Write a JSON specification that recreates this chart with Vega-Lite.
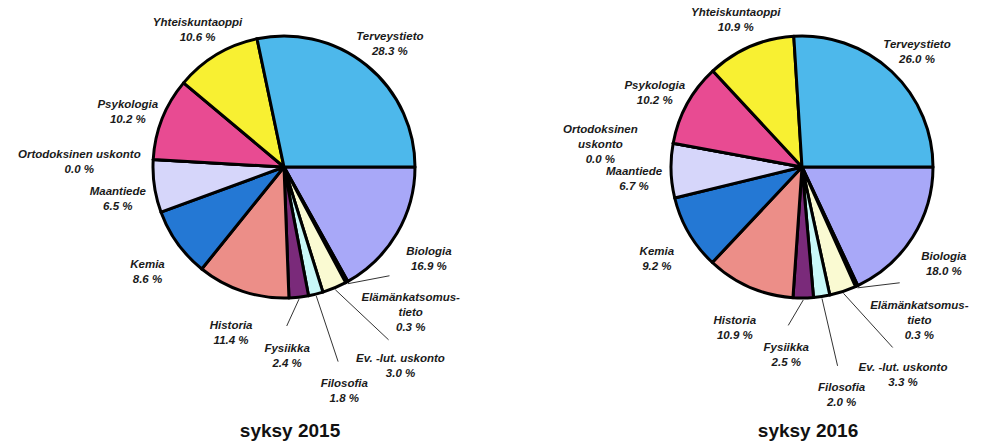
{
  "$schema": "https://vega.github.io/schema/vega-lite/v6.json",
  "background": "white",
  "padding": 0,
  "data": {
    "values": [
      {"term": "syksy 2015", "subject": "Biologia", "label": "Biologia", "share": 16.9},
      {"term": "syksy 2015", "subject": "Elämänkatsomustieto", "label": "Elämänkatsomus-|tieto", "share": 0.3},
      {"term": "syksy 2015", "subject": "Ev.-lut. uskonto", "label": "Ev. -lut. uskonto", "share": 3.0},
      {"term": "syksy 2015", "subject": "Filosofia", "label": "Filosofia", "share": 1.8},
      {"term": "syksy 2015", "subject": "Fysiikka", "label": "Fysiikka", "share": 2.4},
      {"term": "syksy 2015", "subject": "Historia", "label": "Historia", "share": 11.4},
      {"term": "syksy 2015", "subject": "Kemia", "label": "Kemia", "share": 8.6},
      {"term": "syksy 2015", "subject": "Maantiede", "label": "Maantiede", "share": 6.5},
      {"term": "syksy 2015", "subject": "Ortodoksinen uskonto", "label": "Ortodoksinen uskonto", "share": 0.0},
      {"term": "syksy 2015", "subject": "Psykologia", "label": "Psykologia", "share": 10.2},
      {"term": "syksy 2015", "subject": "Yhteiskuntaoppi", "label": "Yhteiskuntaoppi", "share": 10.6},
      {"term": "syksy 2015", "subject": "Terveystieto", "label": "Terveystieto", "share": 28.3},
      {"term": "syksy 2016", "subject": "Biologia", "label": "Biologia", "share": 18.0},
      {"term": "syksy 2016", "subject": "Elämänkatsomustieto", "label": "Elämänkatsomus-|tieto", "share": 0.3},
      {"term": "syksy 2016", "subject": "Ev.-lut. uskonto", "label": "Ev. -lut. uskonto", "share": 3.3},
      {"term": "syksy 2016", "subject": "Filosofia", "label": "Filosofia", "share": 2.0},
      {"term": "syksy 2016", "subject": "Fysiikka", "label": "Fysiikka", "share": 2.5},
      {"term": "syksy 2016", "subject": "Historia", "label": "Historia", "share": 10.9},
      {"term": "syksy 2016", "subject": "Kemia", "label": "Kemia", "share": 9.2},
      {"term": "syksy 2016", "subject": "Maantiede", "label": "Maantiede", "share": 6.7},
      {"term": "syksy 2016", "subject": "Ortodoksinen uskonto", "label": "Ortodoksinen|uskonto", "share": 0.0},
      {"term": "syksy 2016", "subject": "Psykologia", "label": "Psykologia", "share": 10.2},
      {"term": "syksy 2016", "subject": "Yhteiskuntaoppi", "label": "Yhteiskuntaoppi", "share": 10.9},
      {"term": "syksy 2016", "subject": "Terveystieto", "label": "Terveystieto", "share": 26.0}
    ]
  },
  "transform": [
    {"window": [{"op": "row_number", "as": "idx"}], "groupby": ["term"]},
    {"stack": "share", "groupby": ["term"], "sort": [{"field": "idx", "order": "ascending"}], "as": ["s0", "s1"]},
    {"calculate": "datum.share > 0 && datum.share < 4 ? 1 : 0", "as": "small"},
    {"window": [{"op": "sum", "field": "small", "as": "ksum"}], "groupby": ["term"], "sort": [{"field": "idx", "order": "ascending"}], "frame": [null, 0]},
    {"calculate": "datum.ksum - 1", "as": "k"},
    {"calculate": "(90 + 1.8 * (datum.s0 + datum.s1)) * PI / 180", "as": "phi"},
    {"calculate": "datum.small == 1 ? datum.phi + (-5 + 7 * (datum.k - 1.5)) * PI / 180 : datum.phi", "as": "phiL"},
    {"calculate": "datum.share == 0 ? 205 : (datum.small == 1 ? ((datum.k == 1 || datum.k == 2) ? 225 : 182) : 168)", "as": "rL"},
    {"calculate": "datum.label + '|' + format(datum.share, '.1f') + ' %'", "as": "txt"},
    {"calculate": "length(split(datum.txt, '|'))", "as": "nlines"},
    {"calculate": "datum.rL * sin(datum.phiL)", "as": "lx"},
    {"calculate": "datum.rL * cos(datum.phiL)", "as": "ly"},
    {"calculate": "133 * sin(datum.phi)", "as": "ax"},
    {"calculate": "133 * cos(datum.phi)", "as": "ay"},
    {"calculate": "(datum.rL - 7.5 * datum.nlines - 8) * sin(datum.phiL)", "as": "bx"},
    {"calculate": "(datum.rL - 7.5 * datum.nlines - 8) * cos(datum.phiL)", "as": "by"}
  ],
  "facet": {
    "column": {
      "field": "term",
      "type": "nominal",
      "title": null,
      "header": {"labels": false, "labelPadding": 0}
    }
  },
  "spacing": 58,
  "spec": {
    "width": 460,
    "height": 441,
    "layer": [
      {
        "mark": {"type": "arc", "radius": 131, "stroke": "#000000", "strokeWidth": 3, "strokeJoin": "round"},
        "encoding": {
          "x": {"datum": 0, "type": "quantitative", "scale": {"domain": [-284, 176], "zero": false, "nice": false}, "axis": null},
          "y": {"datum": 0, "type": "quantitative", "scale": {"domain": [-274, 167], "zero": false, "nice": false}, "axis": null},
          "theta": {"field": "s0", "type": "quantitative", "stack": null, "scale": {"domain": [0, 100], "range": [1.5707963, 7.8539816]}},
          "theta2": {"field": "s1"},
          "color": {
            "field": "subject",
            "type": "nominal",
            "legend": null,
            "scale": {
              "domain": ["Biologia", "Elämänkatsomustieto", "Ev.-lut. uskonto", "Filosofia", "Fysiikka", "Historia", "Kemia", "Maantiede", "Ortodoksinen uskonto", "Psykologia", "Yhteiskuntaoppi", "Terveystieto"],
              "range": ["#A8A8F8", "#222222", "#FAFAD2", "#C8F8F8", "#7A2A7A", "#EC8E88", "#2478D4", "#D6D6FA", "#B0B0B0", "#E84B92", "#F8F032", "#4DB8EB"]
            }
          }
        }
      },
      {
        "transform": [{"filter": "datum.small == 1"}],
        "mark": {"type": "rule", "color": "#333333", "strokeWidth": 1},
        "encoding": {
          "x": {"field": "ax", "type": "quantitative"},
          "y": {"field": "ay", "type": "quantitative"},
          "x2": {"field": "bx"},
          "y2": {"field": "by"}
        }
      },
      {
        "mark": {"type": "text", "font": "Liberation Sans", "fontSize": 11.5, "fontStyle": "italic", "fontWeight": "bold", "lineBreak": "|", "lineHeight": 15, "align": "center", "baseline": "middle", "color": "#1a1a1a"},
        "encoding": {
          "x": {"field": "lx", "type": "quantitative"},
          "y": {"field": "ly", "type": "quantitative"},
          "text": {"field": "txt", "type": "nominal"}
        }
      },
      {
        "transform": [{"aggregate": [{"op": "count", "as": "n"}], "groupby": ["term"]}],
        "mark": {"type": "text", "font": "Liberation Sans", "fontSize": 19, "fontWeight": "bold", "align": "center", "baseline": "middle", "color": "#111111", "dx": 6},
        "encoding": {
          "x": {"datum": 0, "type": "quantitative"},
          "y": {"datum": -264, "type": "quantitative"},
          "text": {"field": "term", "type": "nominal"}
        }
      }
    ]
  },
  "config": {"view": {"stroke": null}}
}
